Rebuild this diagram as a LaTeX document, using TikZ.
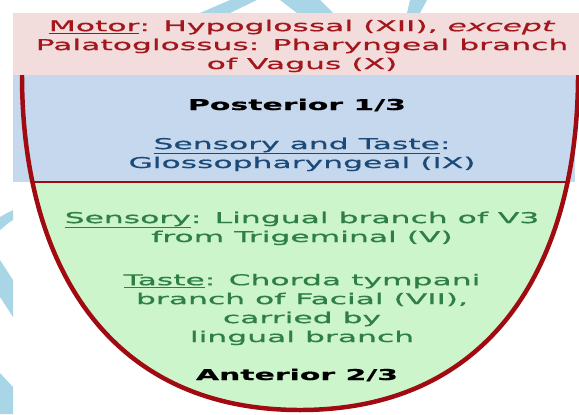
\documentclass[tikz,border=0pt]{standalone}
\usepackage{fontspec}
\setmainfont{DejaVu Sans}[FakeStretch=2.1, FakeBold=0.8, BoldFeatures={FakeStretch=2.0, FakeBold=0.6}]

\definecolor{motorred}{HTML}{A3171C}
\definecolor{pinkbg}{HTML}{F3DCDC}
\definecolor{bluebg}{HTML}{C6D8EE}
\definecolor{greenbg}{HTML}{CCF5CC}
\definecolor{nerveblue}{HTML}{1B4A78}
\definecolor{nervegreen}{HTML}{2F7F45}
\definecolor{rimred}{HTML}{A00A10}
\definecolor{markblue}{HTML}{A8D6E6}

\tikzset{
    lingtext/.style={align=center, inner sep=0pt, anchor=base, font=\fontsize{15}{19}\selectfont},
    headtext/.style={lingtext, font=\fontsize{15}{19}\selectfont\bfseries},
}

\begin{document}
\begin{tikzpicture}[x=1bp, y=-1bp]
    \useasboundingbox (0,0) rectangle (579,414);
    % watermark pieces round the edge
    \fill[markblue] (200,13) -- (230,13) -- (257,0) -- (230,0) -- cycle;
    \fill[markblue] (280,0) -- (320,0) -- (333,13) -- (297,13) -- cycle;
    \fill[markblue] (410,0) -- (427,0) -- (420,13) -- (407,13) -- cycle;
    \fill[markblue] (0,217) .. controls (5,214) and (9,212) .. (13,210) -- (13,220) .. controls (9,222) and (5,226) .. (0,230) -- cycle;
    \fill[markblue] (0,260) -- (13,280) -- (13,317) -- (0,297) -- cycle;
    \fill[markblue] (0,373) -- (13,387) -- (13,414) -- (0,414) -- cycle;
    % bands and tongue
    \fill[pinkbg] (13,13) rectangle (579,75);
    \fill[greenbg] (22,75) .. controls (22,260) and (105,411) .. (300,411)
        .. controls (495,411) and (578,260) .. (578,75) -- cycle;
    \fill[bluebg] (13,75) rectangle (575,182);
    \draw[rimred, line width=2] (32,182) -- (568,182);
    \draw[rimred, line width=4.5] (22,75) .. controls (22,260) and (105,410) .. (300,410)
        .. controls (495,410) and (578,260) .. (578,75);
    % texts (base = last line)
    \node[lingtext, text=motorred] (motor) at (302,69)
        {\underline{Motor}: Hypoglossal (XII), \textit{except}\\
         Palatoglossus: Pharyngeal branch\\ of Vagus (X)};
    \node[headtext] (post) at (297,110) {Posterior 1/3};
    \node[lingtext, text=nerveblue] (postnerve) at (302,168)
        {\underline{Sensory and Taste}:\\ Glossopharyngeal (IX)};
    \node[lingtext, text=nervegreen] (antsens) at (302,242)
        {\underline{Sensory}: Lingual branch of V3\\ from Trigeminal (V)};
    \node[lingtext, text=nervegreen] (anttaste) at (302,342)
        {\underline{Taste}: Chorda tympani\\ branch of Facial (VII),\\ carried by\\ lingual branch};
    \node[headtext] (ant) at (297,380) {Anterior 2/3};
\end{tikzpicture}
\end{document}
